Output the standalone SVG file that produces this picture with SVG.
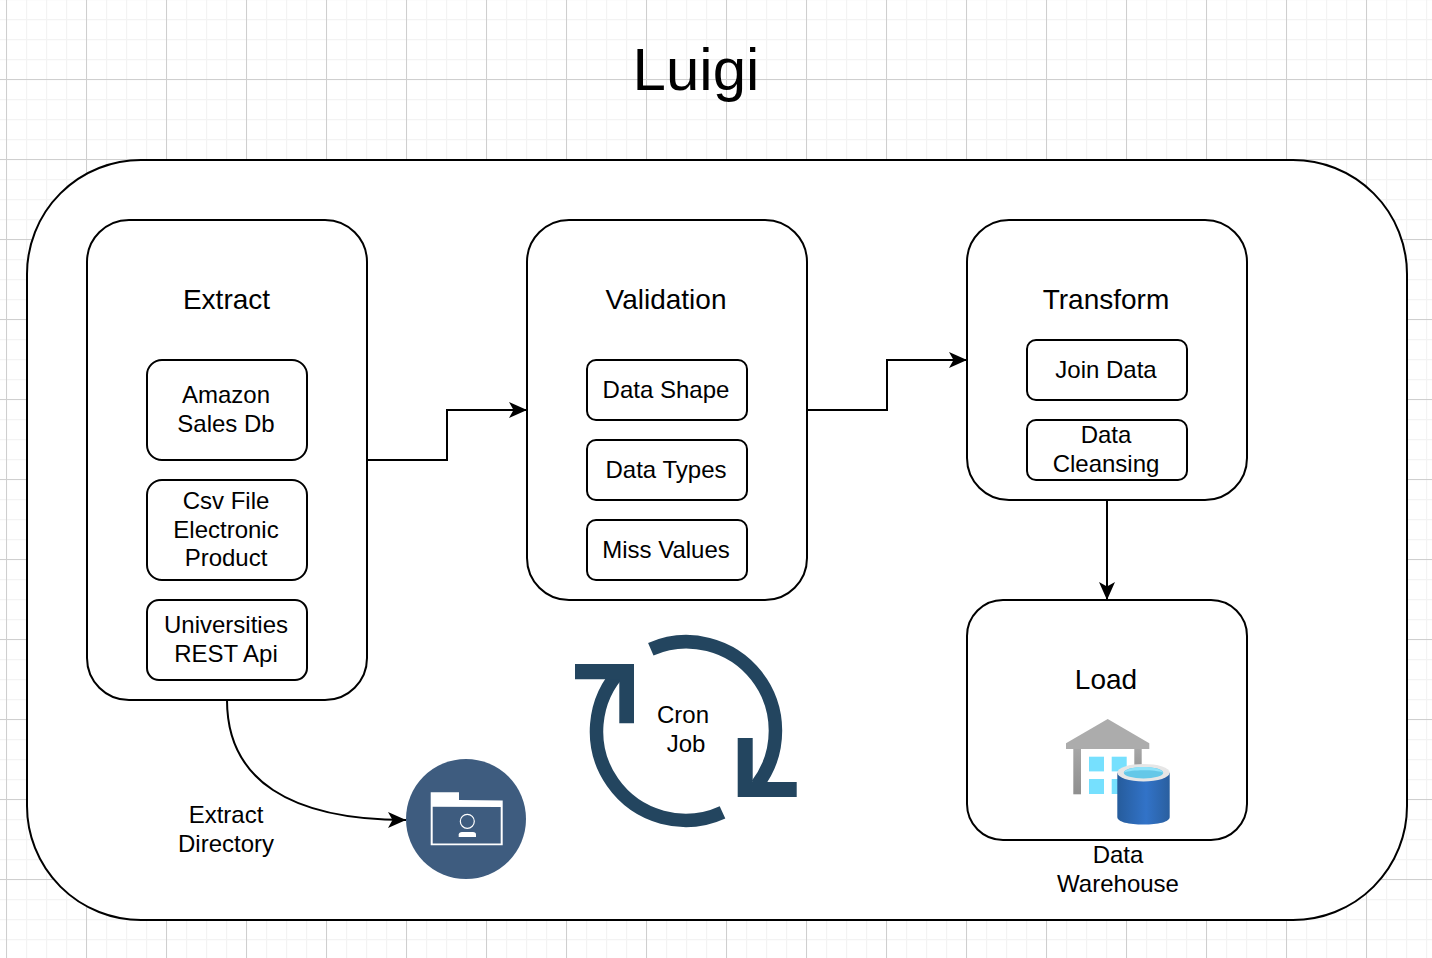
<svg xmlns="http://www.w3.org/2000/svg" width="1432" height="958" viewBox="0 0 1432 958">
<style>
text{font-family:"Liberation Sans",Arial,sans-serif;fill:#000;text-anchor:middle}
.h{font-size:28px}
.t{font-size:24px}
.box{fill:#fff;stroke:#000;stroke-width:2}
.con{fill:none;stroke:#000;stroke-width:2}
</style>
<defs>
<pattern id="minor" patternUnits="userSpaceOnUse" x="6" y="-1" width="20" height="20"><path d="M0.5 0V20M0 0.5H20" fill="none" stroke="#f3f3f3" stroke-width="1.4"/></pattern>
<pattern id="major" patternUnits="userSpaceOnUse" x="6" y="-1" width="80" height="80"><path d="M0.5 0V80M0 0.5H80" fill="none" stroke="#cfcfcf" stroke-width="1"/></pattern>
<marker id="arrow" markerUnits="userSpaceOnUse" markerWidth="20" markerHeight="18" refX="18" refY="9" orient="auto"><path d="M0 1L18 9L0 17L4.500 9Z" fill="#000"/></marker>
<linearGradient id="cyl" x1="0" x2="1" y1="0" y2="0"><stop offset="0" stop-color="#265c9c"/><stop offset=".55" stop-color="#3273c8"/><stop offset="1" stop-color="#2a5f9f"/></linearGradient>
<linearGradient id="wall" x1="0" x2="0" y1="0" y2="1"><stop offset="0" stop-color="#a6a6a6"/><stop offset="1" stop-color="#8f8f8f"/></linearGradient>
</defs>
<rect width="1432" height="958" fill="#fff"/>
<rect width="1432" height="958" fill="url(#minor)"/>
<rect width="1432" height="958" fill="url(#major)"/>
<g id="title"><text x="696" y="90" style="font-size:60px">Luigi</text></g>
<g id="container"><rect class="box" x="27" y="160" width="1380" height="760" rx="114" ry="114"/></g>
<g id="extract">
<rect class="box" x="87" y="220" width="280" height="480" rx="42" ry="42"/>
<text class="h" x="226.500" y="309">Extract</text>
</g>
<g id="amazon"><rect class="box" x="147" y="360" width="160" height="100" rx="15"/><text class="t" x="226" y="403">Amazon</text><text class="t" x="226" y="432">Sales Db</text></g>
<g id="csv"><rect class="box" x="147" y="480" width="160" height="100" rx="15"/><text class="t" x="226" y="508.500">Csv File</text><text class="t" x="226" y="538">Electronic</text><text class="t" x="226" y="566">Product</text></g>
<g id="universities"><rect class="box" x="147" y="600" width="160" height="80" rx="12"/><text class="t" x="226" y="633">Universities</text><text class="t" x="226" y="662">REST Api</text></g>
<g id="validation">
<rect class="box" x="527" y="220" width="280" height="380" rx="42" ry="42"/>
<text class="h" x="666" y="309">Validation</text>
</g>
<g id="datashape"><rect class="box" x="587" y="360" width="160" height="60" rx="9"/><text class="t" x="666" y="398">Data Shape</text></g>
<g id="datatypes"><rect class="box" x="587" y="440" width="160" height="60" rx="9"/><text class="t" x="666" y="478">Data Types</text></g>
<g id="missvalues"><rect class="box" x="587" y="520" width="160" height="60" rx="9"/><text class="t" x="666" y="558">Miss Values</text></g>
<g id="transform">
<rect class="box" x="967" y="220" width="280" height="280" rx="42" ry="42"/>
<text class="h" x="1106" y="309">Transform</text>
</g>
<g id="joindata"><rect class="box" x="1027" y="340" width="160" height="60" rx="9"/><text class="t" x="1106" y="378">Join Data</text></g>
<g id="cleansing"><rect class="box" x="1027" y="420" width="160" height="60" rx="9"/><text class="t" x="1106" y="443">Data</text><text class="t" x="1106" y="471.500">Cleansing</text></g>
<g id="load">
<rect class="box" x="967" y="600" width="280" height="240" rx="36" ry="36"/>
<text class="h" x="1106" y="689">Load</text>
</g>
<g id="warehouse">
<path d="M1107.700 719L1149.300 743.300V749H1066V743.300Z" fill="#acacac"/>
<rect x="1073.300" y="749" width="7.700" height="45.300" fill="url(#wall)"/>
<rect x="1134.300" y="749" width="7.400" height="30" fill="url(#wall)"/>
<g fill="#76e0fe">
<rect x="1089" y="756.700" width="15" height="14.700"/><rect x="1111.700" y="756.700" width="15" height="14.700"/>
<rect x="1089" y="779" width="15" height="15"/><rect x="1111.700" y="779" width="15" height="15"/>
</g>
<path d="M1117.300 772.700V817C1117.300 822 1129 824.500 1143.500 824.500S1169.700 822 1169.700 817V772.700Z" fill="url(#cyl)"/>
<ellipse cx="1143.500" cy="772.700" rx="26.200" ry="8.800" fill="#e6e6e6"/>
<ellipse cx="1143.500" cy="772.700" rx="19.700" ry="5.800" fill="#65c8e8"/>
<path d="M1123.800 772.700C1125 769 1135 767 1143.500 767S1162 769 1163.200 772.700C1155 769.500 1132 769.500 1123.800 772.700Z" fill="#8fe3fa"/>
<text class="t" x="1118" y="863">Data</text><text class="t" x="1118" y="892">Warehouse</text>
</g>
<g id="cronjob">
<g fill="none" stroke="#23455f" stroke-width="13.500">
<path d="M650.800 649.200A89 89 0 0 1 757 785"/>
<path d="M722.500 812.300A89 89 0 0 1 622 669"/>
</g>
<g fill="#23455f">
<path d="M575 664H634V723.300H619.300V679.300H575Z"/>
<path d="M737.700 738H752.700V782H796.700V797H737.700Z"/>
</g>
<text class="t" x="683" y="723">Cron</text><text class="t" x="686" y="752">Job</text>
</g>
<g id="directory">
<circle cx="466" cy="819" r="60" fill="#3e5c7f"/>
<path d="M430.700 792.300H459V800L502.700 800.500V845.300H430.700ZM432.700 806.700V843.500H500.700V807Z" fill="#fff" fill-rule="evenodd"/>
<circle cx="467.300" cy="821.300" r="7" fill="none" stroke="#fff" stroke-width="1.200"/>
<path d="M458.700 837V834.500Q459 832 462 832H473Q476 832 476 834.500V837Z" fill="#fff"/>
</g>
<g id="connectors">
<path class="con" d="M367 460H447V410H527" marker-end="url(#arrow)"/>
<path class="con" d="M807 410H887V360H967" marker-end="url(#arrow)"/>
<path class="con" d="M1107 500V600" marker-end="url(#arrow)"/>
<path class="con" d="M227 700C227 780 290 820 406 820" marker-end="url(#arrow)"/>
<text class="t" x="226" y="823">Extract</text><text class="t" x="226" y="852">Directory</text>
</g>
</svg>
